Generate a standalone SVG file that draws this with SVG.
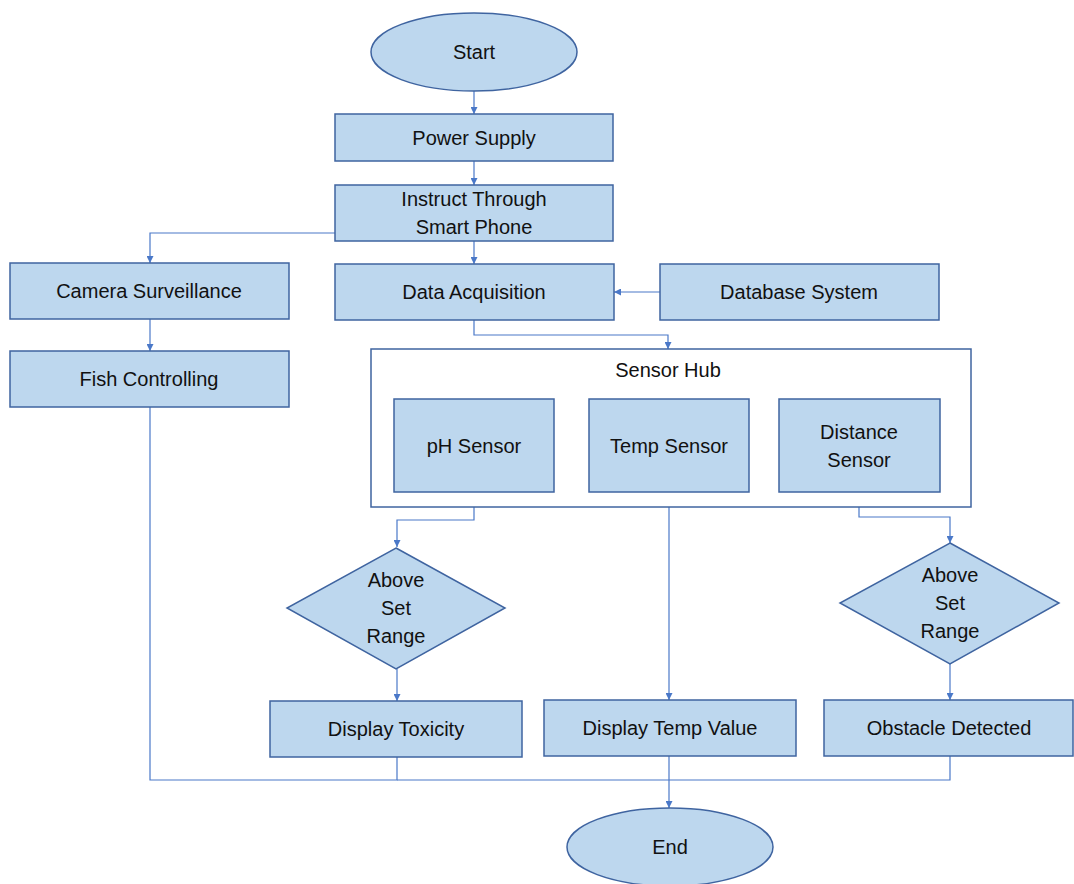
<svg xmlns="http://www.w3.org/2000/svg" width="1074" height="884" viewBox="0 0 1074 884">
  <style>
    .box { fill: #BDD7EE; stroke: #3F64A0; stroke-width: 1.5; }
    .hub { fill: #FFFFFF; stroke: #3F64A0; stroke-width: 1.5; }
    .lbl { font-family: "Liberation Sans", Arial, sans-serif; font-size: 20px; fill: #111111; text-anchor: middle; dominant-baseline: central; }
    .conn { fill: none; stroke: #4A78C8; stroke-width: 1.2; }
  </style>
  <defs>
    <marker id="arrow" viewBox="0 0 10 10" refX="10" refY="5" markerWidth="7" markerHeight="7" markerUnits="userSpaceOnUse" orient="auto">
      <path d="M0,0 L10,5 L0,10 z" fill="#4A78C8"/>
    </marker>
  </defs>

  <rect width="1074" height="884" fill="#FFFFFF"/>

  <!-- connectors -->
  <g id="connectors">
    <path class="conn" d="M474,91 V114" marker-end="url(#arrow)"/>
    <path class="conn" d="M474,161 V185" marker-end="url(#arrow)"/>
    <path class="conn" d="M474,241 V264" marker-end="url(#arrow)"/>
    <path class="conn" d="M335,233 H150 V263" marker-end="url(#arrow)"/>
    <path class="conn" d="M660,292 H614" marker-end="url(#arrow)"/>
    <path class="conn" d="M150,319 V351" marker-end="url(#arrow)"/>
    <path class="conn" d="M474,320 V335 H668 V349" marker-end="url(#arrow)"/>
    <path class="conn" d="M474,492 V520 H397 V547" marker-end="url(#arrow)"/>
    <path class="conn" d="M669,492 V700" marker-end="url(#arrow)"/>
    <path class="conn" d="M859,492 V517 H950 V543" marker-end="url(#arrow)"/>
    <path class="conn" d="M397,669 V701" marker-end="url(#arrow)"/>
    <path class="conn" d="M950,664 V700" marker-end="url(#arrow)"/>
    <path class="conn" d="M150,407 V780 H397 V757"/>
    <path class="conn" d="M397,780 H950 V756"/>
    <path class="conn" d="M669,756 V808" marker-end="url(#arrow)"/>
  </g>

  <g id="start">
    <ellipse class="box" cx="474" cy="52" rx="103" ry="39"/>
    <text class="lbl" x="474" y="52">Start</text>
  </g>

  <g id="power-supply">
    <rect class="box" x="335" y="114" width="278" height="47"/>
    <text class="lbl" x="474" y="138">Power Supply</text>
  </g>

  <g id="instruct">
    <rect class="box" x="335" y="185" width="278" height="56"/>
    <text class="lbl" x="474" y="199">Instruct Through</text>
    <text class="lbl" x="474" y="227">Smart Phone</text>
  </g>

  <g id="camera">
    <rect class="box" x="10" y="263" width="279" height="56"/>
    <text class="lbl" x="149" y="291">Camera Surveillance</text>
  </g>

  <g id="data-acquisition">
    <rect class="box" x="335" y="264" width="279" height="56"/>
    <text class="lbl" x="474" y="292">Data Acquisition</text>
  </g>

  <g id="database">
    <rect class="box" x="660" y="264" width="279" height="56"/>
    <text class="lbl" x="799" y="292">Database System</text>
  </g>

  <g id="fish-controlling">
    <rect class="box" x="10" y="351" width="279" height="56"/>
    <text class="lbl" x="149" y="379">Fish Controlling</text>
  </g>

  <g id="sensor-hub">
    <rect class="hub" x="371" y="349" width="600" height="158"/>
    <text class="lbl" x="668" y="370">Sensor Hub</text>
  </g>

  <g id="ph-sensor">
    <rect class="box" x="394" y="399" width="160" height="93"/>
    <text class="lbl" x="474" y="446">pH Sensor</text>
  </g>

  <g id="temp-sensor">
    <rect class="box" x="589" y="399" width="160" height="93"/>
    <text class="lbl" x="669" y="446">Temp Sensor</text>
  </g>

  <g id="distance-sensor">
    <rect class="box" x="779" y="399" width="161" height="93"/>
    <text class="lbl" x="859" y="432">Distance</text>
    <text class="lbl" x="859" y="460">Sensor</text>
  </g>

  <g id="ph-decision">
    <polygon class="box" points="396,548 505,608 396,669 287,608"/>
    <text class="lbl" x="396" y="580">Above</text>
    <text class="lbl" x="396" y="608">Set</text>
    <text class="lbl" x="396" y="636">Range</text>
  </g>

  <g id="distance-decision">
    <polygon class="box" points="950,543 1059,603 950,664 840,603"/>
    <text class="lbl" x="950" y="575">Above</text>
    <text class="lbl" x="950" y="603">Set</text>
    <text class="lbl" x="950" y="631">Range</text>
  </g>

  <g id="display-toxicity">
    <rect class="box" x="270" y="701" width="252" height="56"/>
    <text class="lbl" x="396" y="729">Display Toxicity</text>
  </g>

  <g id="display-temp">
    <rect class="box" x="544" y="700" width="252" height="56"/>
    <text class="lbl" x="670" y="728">Display Temp Value</text>
  </g>

  <g id="obstacle">
    <rect class="box" x="824" y="700" width="249" height="56"/>
    <text class="lbl" x="949" y="728">Obstacle Detected</text>
  </g>

  <g id="end">
    <ellipse class="box" cx="670" cy="847" rx="103" ry="39"/>
    <text class="lbl" x="670" y="847">End</text>
  </g>
</svg>
